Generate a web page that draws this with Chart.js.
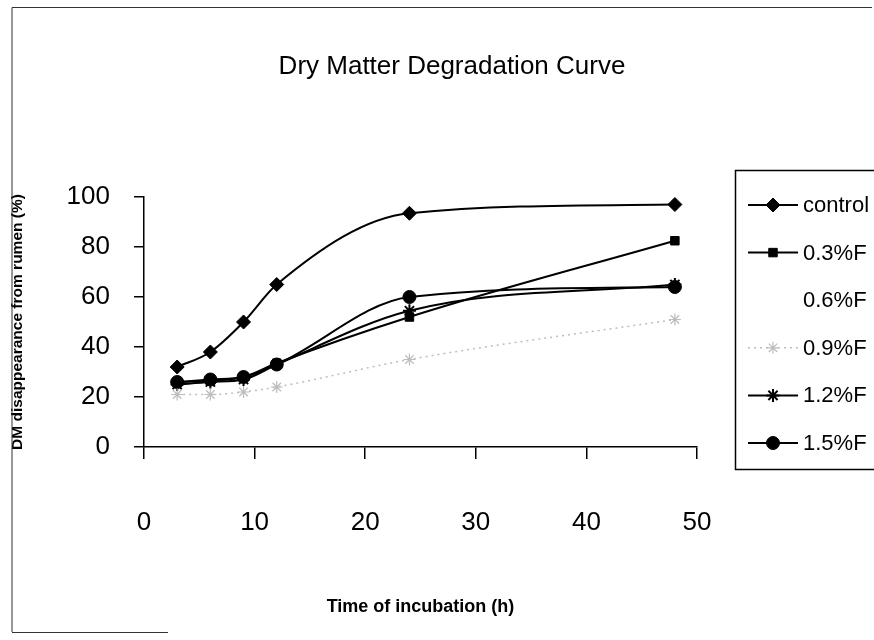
<!DOCTYPE html>
<html>
<head>
<meta charset="utf-8">
<script src="https://cdn.jsdelivr.net/npm/chart.js@4"></script>
<style>
html,body{margin:0;padding:0;background:#fff;}
#wrap{width:874px;height:640px;position:relative;}
</style>
</head>
<body>
<div id="wrap"><canvas id="c" width="874" height="640"></canvas></div>
<script>
const hours = [3, 6, 9, 12, 24, 48];
const seriesNames = ['control', '0.3%F', '0.6%F', '0.9%F', '1.2%F', '1.5%F'];
const control = [32, 38, 50, 65, 93.5, 97];
const f03 = [26, 26.5, 28, 33.5, 52, 82.5];
const f06 = [null, null, null, null, null, null];
const f09 = [21, 21, 22, 24, 35, 51];
const f12 = [25, 26, 27, 33, 54.5, 65];
const f15 = [26, 27, 28, 33, 60, 64];
const xTicks = [0, 10, 20, 30, 40, 50];
const yTicks = [0, 20, 40, 60, 80, 100];

const FONT = "'Liberation Sans', Arial, sans-serif";
const toXY = arr => arr.map((v, i) => ({x: hours[i], y: v}));

const styles = [
  {color:'#000', pointStyle:'rectRot', radius:7, dash:[], width:2, pbw:1},
  {color:'#000', pointStyle:'rect', radius:6, dash:[], width:2, pbw:1},
  {color:'rgba(0,0,0,0)', pointStyle:'circle', radius:0, dash:[], width:0, pbw:0},
  {color:'#bdbdbd', pointStyle:'star', radius:6, dash:[2,4], width:1.5, pbw:1.2},
  {color:'#000', pointStyle:'star', radius:6.5, dash:[], width:2, pbw:2},
  {color:'#000', pointStyle:'circle', radius:6.5, dash:[], width:2, pbw:1}
];
const values = [control, f03, f06, f09, f12, f15];

const datasets = values.map((v, i) => ({
  label: seriesNames[i],
  data: toXY(v),
  borderColor: styles[i].color,
  backgroundColor: styles[i].color,
  pointBackgroundColor: styles[i].color,
  pointBorderColor: styles[i].color,
  pointStyle: styles[i].pointStyle,
  pointRadius: styles[i].radius,
  pointBorderWidth: styles[i].pbw,
  borderWidth: styles[i].width,
  borderDash: styles[i].dash,
  cubicInterpolationMode: 'monotone',
  fill: false
}));

const decor = {
  id: 'decor',
  afterDraw(chart) {
    const ctx = chart.ctx;
    ctx.save();
    // outer frame
    ctx.strokeStyle = '#333';
    ctx.lineWidth = 1;
    ctx.beginPath();
    ctx.moveTo(12, 632); ctx.lineTo(12, 7.5); ctx.lineTo(872, 7.5);
    ctx.moveTo(12, 632.5); ctx.lineTo(168, 632.5);
    ctx.stroke();
    // title
    ctx.fillStyle = '#000';
    ctx.font = "26px " + FONT;
    ctx.textAlign = 'center';
    ctx.textBaseline = 'middle';
    ctx.fillText('Dry Matter Degradation Curve', 452, 67);
    // legend box
    ctx.lineWidth = 1.5;
    ctx.strokeStyle = '#000';
    ctx.strokeRect(735.5, 170.5, 150, 299);
    ctx.font = "22px " + FONT;
    ctx.textAlign = 'left';
    chart.data.datasets.forEach((ds, i) => {
      const y = 205 + i * 47.6;
      const st = styles[i];
      if (st.width > 0) {
        ctx.save();
        ctx.strokeStyle = st.color;
        ctx.lineWidth = st.width;
        ctx.setLineDash(st.dash);
        ctx.beginPath();
        ctx.moveTo(748, y); ctx.lineTo(798, y);
        ctx.stroke();
        ctx.restore();
        ctx.save();
        ctx.fillStyle = st.color;
        ctx.strokeStyle = st.color;
        ctx.lineWidth = st.pbw;
        Chart.helpers.drawPoint(ctx, {pointStyle: st.pointStyle, radius: st.radius, rotation: 0, borderWidth: st.pbw}, 773, y);
        ctx.restore();
      }
      ctx.fillStyle = '#000';
      ctx.fillText(ds.label, 803, y + 1);
    });
    ctx.restore();
  }
};

new Chart(document.getElementById('c'), {
  type: 'line',
  data: { datasets },
  options: {
    responsive: false,
    animation: false,
    devicePixelRatio: 1,
    layout: { padding: { left: 0, right: 177, top: 197, bottom: 0 } },
    plugins: { legend: { display: false }, title: { display: false }, tooltip: { enabled: false } },
    scales: {
      x: {
        type: 'linear', min: 0, max: 50,
        afterBuildTicks: s => { s.ticks = xTicks.map(v => ({value: v})); },
        afterFit: s => { s.height = 193; },
        grid: { display: true, drawOnChartArea: false, drawTicks: true, tickLength: 12, color: '#000', lineWidth: 1.5 },
        border: { display: true, color: '#000', width: 1.5 },
        ticks: { color: '#000', font: { family: FONT, size: 26 }, padding: 48, maxRotation: 0 },
        title: { display: true, text: 'Time of incubation (h)', color: '#000', font: { family: FONT, size: 18, weight: 'bold' }, padding: { top: 0, bottom: 22 } }
      },
      y: {
        min: 0, max: 100,
        afterBuildTicks: s => { s.ticks = yTicks.map(v => ({value: v})); },
        afterFit: s => { s.width = 144; },
        grid: { display: true, drawOnChartArea: false, drawTicks: true, tickLength: 10, color: '#000', lineWidth: 1.5 },
        border: { display: true, color: '#000', width: 1.5 },
        ticks: { color: '#000', font: { family: FONT, size: 26 }, padding: 24 },
        title: { display: true, text: 'DM disappearance from rumen (%)', color: '#000', font: { family: FONT, size: 15.5, weight: 'bold' }, padding: { top: 8, bottom: 0 } }
      }
    }
  },
  plugins: [decor]
});
</script>
</body>
</html>
